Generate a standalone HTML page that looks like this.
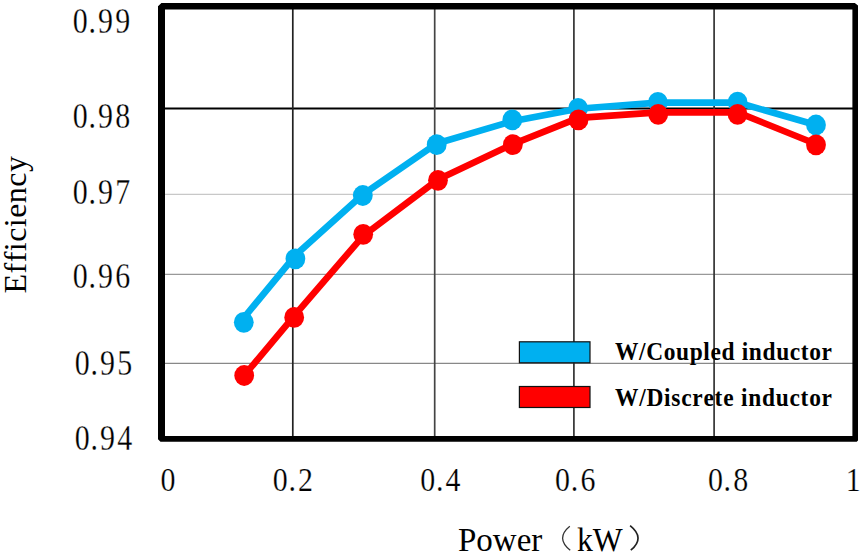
<!DOCTYPE html>
<html><head><meta charset="utf-8"><style>
html,body{margin:0;padding:0;background:#fff;width:861px;height:555px;overflow:hidden}
svg{display:block}
text{font-family:"Liberation Serif",serif;fill:#000;font-variant-ligatures:none;font-kerning:none}
.t{font-size:35.2px;letter-spacing:2.6px;stroke:#fff;stroke-width:0.25px}
.lg{font-size:26px;font-weight:bold}
</style></head><body>
<svg width="861" height="555" viewBox="0 0 861 555">
<!-- grid -->
<g>
<line x1="162" y1="108.4" x2="855" y2="108.4" stroke="#000" stroke-width="2"/>
<line x1="162" y1="194.4" x2="855" y2="194.4" stroke="#c8c8c8" stroke-width="1.4"/>
<line x1="162" y1="274.4" x2="855" y2="274.4" stroke="#999" stroke-width="1.4"/>
<line x1="162" y1="363.4" x2="855" y2="363.4" stroke="#888" stroke-width="1.4"/>
<line x1="292.8" y1="6" x2="292.8" y2="439" stroke="#222" stroke-width="1.7"/>
<line x1="434.7" y1="6" x2="434.7" y2="439" stroke="#444" stroke-width="1.7"/>
<line x1="573.9" y1="6" x2="573.9" y2="439" stroke="#333" stroke-width="1.7"/>
<line x1="714.1" y1="6" x2="714.1" y2="439" stroke="#333" stroke-width="1.7"/>
</g>
<!-- frame -->
<path fill="#000" fill-rule="evenodd" d="M161.4 3 L854.8 3 L858 5.6 L858 440.4 L856.7 441.7 L160.5 441.7 L158 439.2 L158 6.2 Z M165 9.4 L852.4 9.4 L852.4 436 L165 436 Z"/>
<!-- series -->
<polyline fill="none" stroke-linejoin="round" stroke-linecap="round" stroke-width="6.6" stroke="#00b0f0" points="243.8,317.8 295.4,255.3 362.8,194.5 436.7,143.5 512.3,121.2 578.1,108.8 657.9,102.6 737.6,102.5 816,125.0"/>
<g fill="#00b0f0"><ellipse cx="243.8" cy="322.3" rx="9.9" ry="10.4"/><ellipse cx="295.4" cy="258.8" rx="9.9" ry="10.4"/><ellipse cx="362.8" cy="195.5" rx="9.9" ry="10.4"/><ellipse cx="436.7" cy="144.7" rx="9.9" ry="10.4"/><ellipse cx="512.3" cy="119.9" rx="9.9" ry="10.4"/><ellipse cx="578.1" cy="108.3" rx="9.9" ry="10.4"/><ellipse cx="657.9" cy="102.4" rx="9.9" ry="10.4"/><ellipse cx="737.6" cy="102.2" rx="9.9" ry="10.4"/><ellipse cx="816" cy="125" rx="9.9" ry="10.4"/></g>
<polyline fill="none" stroke-linejoin="round" stroke-linecap="round" stroke-width="6.6" stroke="#ff0000" points="244.2,375.5 294.2,315.9 363.2,235.8 438,179.5 512.9,144.1 578.5,117.9 658.2,112.4 737.6,112.4 816,144.0"/>
<g fill="#ff0000"><ellipse cx="244.2" cy="375.5" rx="9.9" ry="10.4"/><ellipse cx="294.2" cy="317.4" rx="9.9" ry="10.4"/><ellipse cx="363.2" cy="234.3" rx="9.9" ry="10.4"/><ellipse cx="438" cy="180.3" rx="9.9" ry="10.4"/><ellipse cx="512.9" cy="144.6" rx="9.9" ry="10.4"/><ellipse cx="578.5" cy="119.9" rx="9.9" ry="10.4"/><ellipse cx="658.2" cy="114.4" rx="9.9" ry="10.4"/><ellipse cx="737.6" cy="114.4" rx="9.9" ry="10.4"/><ellipse cx="816" cy="144.8" rx="9.9" ry="10.4"/></g>
<!-- legend -->
<rect x="519.4" y="341.8" width="70.6" height="21" fill="#00b0f0" stroke="#111" stroke-width="1.2"/>
<rect x="519.4" y="386.5" width="70.6" height="21" fill="#ff0000" stroke="#111" stroke-width="1.2"/>
<text class="lg" transform="translate(615,360) scale(0.9,1)" textLength="241.1" lengthAdjust="spacing">W/Coupled inductor</text>
<text class="lg" transform="translate(615,406.3) scale(0.9,1)" textLength="241.1" lengthAdjust="spacing">W/Discrete inductor</text>
<!-- y tick labels -->
<text class="t" transform="translate(71.2,32.9) scale(0.851,1)"><tspan dx="1.9">0</tspan><tspan dx="-1.9">.99</tspan></text>
<text class="t" transform="translate(71.2,128) scale(0.851,1)"><tspan dx="1.9">0</tspan><tspan dx="-1.9">.98</tspan></text>
<text class="t" transform="translate(71.2,204.4) scale(0.851,1)"><tspan dx="1.9">0</tspan><tspan dx="-1.9">.97</tspan></text>
<text class="t" transform="translate(71.2,287.9) scale(0.851,1)"><tspan dx="1.9">0</tspan><tspan dx="-1.9">.96</tspan></text>
<text class="t" transform="translate(73.2,375.1) scale(0.851,1)"><tspan dx="1.9">0</tspan><tspan dx="-1.9">.95</tspan></text>
<text class="t" transform="translate(73.2,450.1) scale(0.851,1)"><tspan dx="1.9">0</tspan><tspan dx="-1.9">.94</tspan></text>
<!-- x tick labels -->
<text class="t" transform="translate(160.4,490.6) scale(0.851,0.965)">0</text>
<text class="t" transform="translate(271.2,490.6) scale(0.851,0.965)"><tspan dx="1.9">0</tspan><tspan dx="-1.9">.2</tspan></text>
<text class="t" transform="translate(418.7,490.6) scale(0.851,0.965)"><tspan dx="1.9">0</tspan><tspan dx="-1.9">.4</tspan></text>
<text class="t" transform="translate(553.5,490.6) scale(0.851,0.965)"><tspan dx="1.9">0</tspan><tspan dx="-1.9">.6</tspan></text>
<text class="t" transform="translate(706.4,490.6) scale(0.851,0.965)"><tspan dx="1.9">0</tspan><tspan dx="-1.9">.8</tspan></text>
<text class="t" transform="translate(845.7,490.6) scale(0.851,0.965)">1</text>
<!-- axis titles -->
<text x="458" y="551" style="font-size:33px">Power</text>
<text transform="translate(577,550.6) scale(0.96,1)" style="font-size:33px">kW</text>
<text transform="translate(25.6,293.4) rotate(-90)" style="font-size:32px;letter-spacing:0.45px">Efficiency</text>
<path d="M569.8,526.3 Q555.2,538.3 570.2,550.3" fill="none" stroke="#333" stroke-width="1.3"/>
<path d="M630.1,525.7 Q645.6,538 630.8,550.2" fill="none" stroke="#222" stroke-width="1.7"/>
</svg>
</body></html>
